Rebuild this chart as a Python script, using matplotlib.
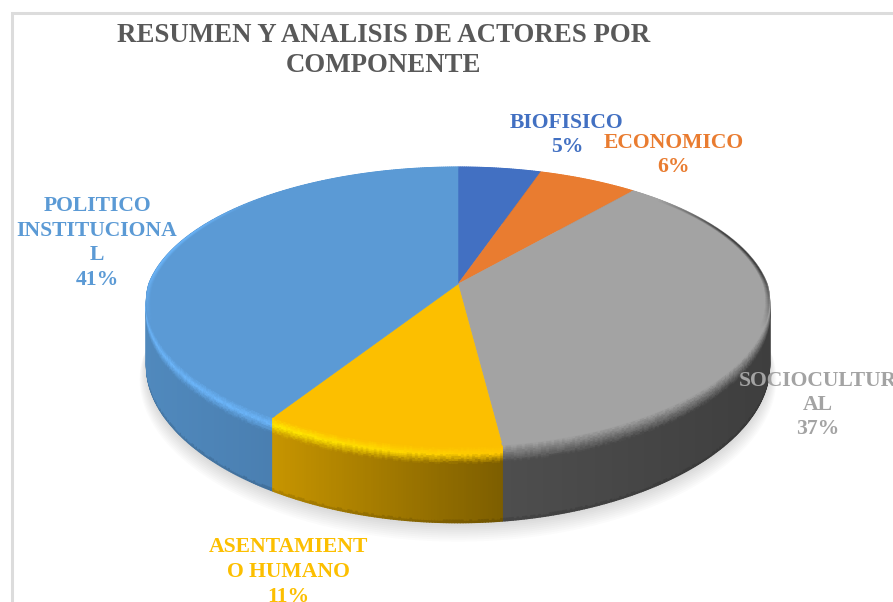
import numpy as np
import matplotlib
matplotlib.use('Agg')
import matplotlib.pyplot as plt
from matplotlib.collections import PolyCollection
from matplotlib.colors import to_rgb
from matplotlib.patches import Rectangle
from matplotlib.transforms import Transform

TITLE = 'RESUMEN Y ANALISIS DE ACTORES POR\nCOMPONENTE'
CATEGORIES = ['BIOFISICO', 'ECONOMICO', 'SOCIOCULTUR\nAL', 'ASENTAMIENT\nO HUMANO', 'POLITICO\nINSTITUCIONA\nL']
VALUES = [5, 6, 37, 11, 41]
COLORS = ['#4270c2', '#e97c30', '#a3a3a3', '#fcbf00', '#5b9ad5']
LABEL_POS = [(567, 135), (674, 155), (818, 405), (288, 572), (97, 243)]

# left and right colour of the side wall, colour of the bright rim
WALL_LEFT = ['#2f5190', '#a85a22', '#4e4e4e', '#c79500', '#5089bd']
WALL_RIGHT = ['#2f5190', '#a85a22', '#3e3e3e', '#7d5e00', '#41709f']
RIM_LEFT = ['#4a7ad0', '#f08a40', '#7c7c7c', '#ffe800', '#6bb4f8']
RIM_RIGHT = ['#4a7ad0', '#f08a40', '#757575', '#ffc800', '#6bb4f8']

CX, CY = 458, 284
RX, RY = 309, 136
K = 0.164
K_FRONT_X = 0.125
DEPTH = 63.5
BEVEL = 14


def warp(c, s):
    w = 1 + K * s
    wx = np.where(s > 0, w, 1 + K_FRONT_X * s)
    return CX + RX * c / wx, CY - RY * s / w


def project(theta, z=0.0, r=1.0):
    s = r * np.cos(theta)
    x, y = warp(r * np.sin(theta), s)
    return x, y + z / (1 + K * s)


class Perspective(Transform):
    input_dims = 2
    output_dims = 2

    def transform_non_affine(self, xy):
        xy = np.asarray(xy, dtype=float)
        return np.column_stack(warp(xy[:, 0], xy[:, 1]))


def mix(a, b, t):
    return tuple((1 - t) * x + t * y for x, y in zip(to_rgb(a), to_rgb(b)))


def band_colour(i, tx, z):
    wall = mix(WALL_LEFT[i], WALL_RIGHT[i], tx)
    rim = mix(RIM_LEFT[i], RIM_RIGHT[i], tx)
    if z < BEVEL * 0.45:
        return mix(COLORS[i], rim, z / (BEVEL * 0.45))
    if z < BEVEL:
        return mix(rim, wall, (z - BEVEL * 0.45) / (BEVEL * 0.55))
    if z > DEPTH - 2:
        return tuple(0.88 * v for v in wall)
    return wall


def draw_wall(ax, edges):
    levels = np.concatenate((np.linspace(0, BEVEL, 11), [DEPTH - 2, DEPTH]))
    quads, colours, order = [], [], []
    for i in range(len(VALUES)):
        th = np.linspace(edges[i], edges[i + 1], max(VALUES[i] * 8, 12))
        xs = project(th)[0]
        span = max(xs.max() - xs.min(), 1)
        for j in range(len(th) - 1):
            tx = ((xs[j] + xs[j + 1]) / 2 - xs.min()) / span
            for z0, z1 in zip(levels[:-1], levels[1:]):
                x0, y0 = project(th[j:j + 2], z0)
                x1, y1 = project(th[j:j + 2], z1)
                quads.append([(x0[0], y0[0]), (x0[1], y0[1]), (x1[1], y1[1]), (x1[0], y1[0])])
                colours.append(band_colour(i, tx, (z0 + z1) / 2))
                order.append(np.cos(th[j]))
    # back of the ring first
    idx = np.argsort(order)[::-1]
    ax.add_collection(PolyCollection([quads[n] for n in idx], facecolors=[colours[n] for n in idx],
                                     edgecolors='face', linewidths=1.0, zorder=3))


def draw_fringe(ax, edges):
    # thin soft edge of the top face, dark on the grey slice and light on the blue one
    fringe = {2: '#3c3c3c', 4: '#6bb4f8'}
    radii = np.linspace(0.988, 1.0, 5)
    quads, colours = [], []
    for i, col in fringe.items():
        th = np.linspace(edges[i], edges[i + 1], VALUES[i] * 5)
        for n in range(len(radii) - 1):
            x0, y0 = project(th, 0, radii[n])
            x1, y1 = project(th, 0, radii[n + 1])
            for j in range(len(th) - 1):
                # only near the sides, fades out towards the back and the front
                fade = np.clip((np.cos(th[j]) + 0.3) / 0.4, 0, 1)
                fade *= np.clip((abs(np.sin(th[j])) - 0.72) / 0.2, 0, 1)
                quads.append([(x0[j], y0[j]), (x0[j + 1], y0[j + 1]), (x1[j + 1], y1[j + 1]), (x1[j], y1[j])])
                colours.append(mix(COLORS[i], col, fade * (n + 1) / 4))
    ax.add_collection(PolyCollection(quads, facecolors=colours, edgecolors='face', linewidths=0.3, zorder=5))


def main():
    fig = plt.figure(figsize=(8.93, 6.02), dpi=100)
    ax = fig.add_axes([0, 0, 1, 1])
    wedges, _ = ax.pie(VALUES, colors=COLORS, startangle=90, counterclock=False)
    for wedge, col in zip(wedges, COLORS):
        wedge.set_transform(Perspective() + ax.transData)
        wedge.set_edgecolor(col)
        wedge.set_linewidth(0.4)
        wedge.set_zorder(4)
    ax.set_aspect('auto')
    ax.set_xlim(0, 893)
    ax.set_ylim(602, 0)
    ax.axis('off')

    ax.add_patch(Rectangle((11.5, 13), 1200, 1200, facecolor='white', edgecolor='#dcdcdc', lw=2.2, zorder=0))

    # soft shadow under the pie
    th = np.linspace(0, 2 * np.pi, 300)
    for e in np.linspace(0.022, 0.0, 10):
        x, y = project(th, DEPTH + 1 + e * 500, 1 + e)
        ax.fill(x, y, color='black', alpha=0.016, lw=0, zorder=1)

    edges = np.radians(np.concatenate(([0], np.cumsum(VALUES))) * 3.6)
    draw_wall(ax, edges)
    draw_fringe(ax, edges)

    font = {'family': ['Liberation Serif', 'DejaVu Serif'], 'weight': 'bold'}
    ax.text(383.5, 50.5, TITLE, color='#595959', fontsize=19.4, ha='center', va='center',
            linespacing=1.3, zorder=10, **font)
    for name, val, col, pos in zip(CATEGORIES, VALUES, COLORS, LABEL_POS):
        ax.text(pos[0], pos[1], f'{name}\n{val}%', color=col, fontsize=15.6, ha='center', va='center',
                linespacing=1.3, zorder=10, **font)

    fig.savefig('out.png', dpi=100)
    plt.close(fig)


if __name__ == "__main__":
    main()
